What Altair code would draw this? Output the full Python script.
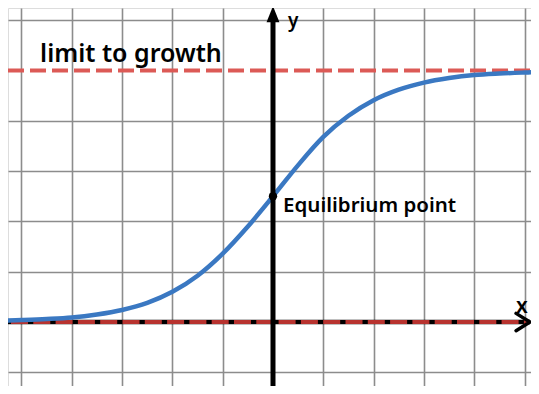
import altair as alt
import pandas as pd

# logistic curve values (grid units)
curve_x = [-5.3, -5.0, -4.5, -4.0, -3.5, -3.0, -2.5, -2.0, -1.5, -1.0, -0.5, 0.0,
           0.5, 1.0, 1.5, 2.0, 2.5, 3.0, 3.5, 4.0, 4.5, 5.0, 5.3]
curve_y = [0.03, 0.04, 0.06, 0.09, 0.15, 0.24, 0.38, 0.60, 0.92, 1.36, 1.90, 2.50,
           3.12, 3.68, 4.10, 4.41, 4.62, 4.76, 4.85, 4.91, 4.94, 4.96, 4.97]

limit_value = 5
equilibrium_x = [0]
equilibrium_y = [2.5]

grid_x = [-5, -4, -3, -2, -1, 1, 2, 3, 4, 5]
grid_y = [-1, 1, 2, 3, 4, 6]

labels_text = ["limit to growth", "Equilibrium point", "y", "x"]
labels_x = [-4.63, 0.2, 0.3, 4.83]
labels_y = [5.17, 2.19, 5.87, 0.18]
labels_size = [25, 20.5, 19, 21]

X_DOMAIN = [-5.268, 5.129]
Y_DOMAIN = [-1.272, 6.243]
X_END = 5.11

xs = alt.Scale(domain=X_DOMAIN, nice=False, zero=False)
ys = alt.Scale(domain=Y_DOMAIN, nice=False, zero=False)
ax_x = alt.Axis(values=grid_x, grid=True, labels=False, ticks=False, domain=False,
                title=None, gridColor="#8c8c8c", gridWidth=1.6, gridOpacity=1)
ax_y = alt.Axis(values=grid_y, grid=True, labels=False, ticks=False, domain=False,
                title=None, gridColor="#8c8c8c", gridWidth=1.6, gridOpacity=1)

curve_df = pd.DataFrame({"x": curve_x, "y": curve_y})

base = alt.Chart(curve_df)

grid = base.mark_point(opacity=0).encode(
    x=alt.X("x:Q", scale=xs, axis=ax_x),
    y=alt.Y("y:Q", scale=ys, axis=ax_y),
)

axis_df = pd.DataFrame({"y": [0], "x": [X_DOMAIN[0]], "x2": [X_END]})

# x-axis black line (under the red dashed)
xaxis_black = alt.Chart(axis_df).mark_rule(
    color="black", strokeWidth=4.5
).encode(x=alt.X("x:Q", scale=xs), x2="x2:Q", y=alt.Y("y:Q", scale=ys))

zero_red = alt.Chart(axis_df).mark_rule(
    color="#b8332f", strokeWidth=4, strokeDash=[17, 5.3], strokeDashOffset=-3
).encode(x=alt.X("x:Q", scale=xs), x2="x2:Q", y=alt.Y("y:Q", scale=ys))

limit_red = alt.Chart(pd.DataFrame({"y": [limit_value]})).mark_rule(
    color="#dc5a56", strokeWidth=4, strokeDash=[16, 6], strokeDashOffset=-1
).encode(y=alt.Y("y:Q", scale=ys))

yaxis = alt.Chart(pd.DataFrame({"x": [0], "y": [Y_DOMAIN[0]], "y2": [6.05]})).mark_rule(
    color="black", strokeWidth=5
).encode(x=alt.X("x:Q", scale=xs), y=alt.Y("y:Q", scale=ys), y2="y2:Q")

y_arrow = alt.Chart(pd.DataFrame({"x": [0], "y": [6.12]})).mark_point(
    shape="M-0.8,1L0.8,1L0,-1Z", filled=True, color="black", size=260, opacity=1
).encode(x=alt.X("x:Q", scale=xs), y=alt.Y("y:Q", scale=ys))

x_arrow = alt.Chart(pd.DataFrame({"x": [4.97], "y": [0]})).mark_point(
    shape="M-0.8,-1L0.8,0L-0.8,1", filled=False, color="black", size=300,
    strokeWidth=3.5, opacity=1, strokeCap="round", strokeJoin="round"
).encode(x=alt.X("x:Q", scale=xs), y=alt.Y("y:Q", scale=ys))

line = base.mark_line(color="#3a78c2", strokeWidth=4.5, interpolate="monotone").encode(
    x=alt.X("x:Q", scale=xs), y=alt.Y("y:Q", scale=ys)
)

dot = alt.Chart(pd.DataFrame({"x": equilibrium_x, "y": equilibrium_y})).mark_point(
    shape="circle", filled=True, color="black", size=70, opacity=1
).encode(x=alt.X("x:Q", scale=xs), y=alt.Y("y:Q", scale=ys))

labels_df = pd.DataFrame({"t": labels_text, "x": labels_x, "y": labels_y, "s": labels_size})
labels = alt.Chart(labels_df).mark_text(
    align="left", baseline="alphabetic", font="Noto Sans", fontWeight=600, color="black"
).encode(
    x=alt.X("x:Q", scale=xs), y=alt.Y("y:Q", scale=ys), text="t:N",
    size=alt.Size("s:Q", scale=None, legend=None),
)

chart = alt.layer(
    grid, xaxis_black, zero_red, limit_red, line, yaxis, y_arrow, x_arrow, dot, labels
).properties(
    width=523, height=378, padding=0, autosize=alt.AutoSizeParams(type="none")
).configure_view(stroke=None).configure(background="white")

chart.save("out.html", embed_options={"renderer": "svg", "actions": False})
